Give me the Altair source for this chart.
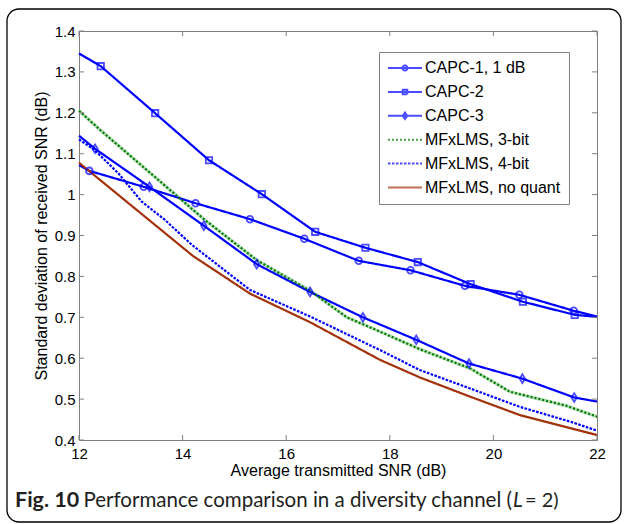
import altair as alt
import pandas as pd

# ---------------- data ----------------
SERIES = ["CAPC-1, 1 dB", "CAPC-2", "CAPC-3", "MFxLMS, 3-bit", "MFxLMS, 4-bit", "MFxLMS, no quant"]
COLORS = ["#0000ff", "#0000ff", "#0000ff", "#007a00", "#0000ff", "#a3320b"]

capc1_x = [12, 12.2, 13.25, 14.25, 15.3, 16.35, 17.4, 18.4, 19.45, 20.5, 21.55, 22]
capc1_y = [1.072, 1.058, 1.019, 0.979, 0.940, 0.892, 0.838, 0.815, 0.777, 0.755, 0.716, 0.702]

capc2_x = [12, 12.42, 13.47, 14.51, 15.53, 16.56, 17.53, 18.54, 19.56, 20.57, 21.57, 22]
capc2_y = [1.345, 1.314, 1.199, 1.084, 1.001, 0.909, 0.870, 0.835, 0.781, 0.738, 0.706, 0.701]

capc3_x = [12, 12.31, 13.36, 14.41, 15.43, 16.46, 17.48, 18.51, 19.53, 20.56, 21.56, 22]
capc3_y = [1.144, 1.112, 1.019, 0.924, 0.830, 0.762, 0.700, 0.645, 0.587, 0.550, 0.504, 0.494]

mf3_x = [12, 12.41, 14.43, 15.43, 16.46, 17.17, 17.81, 18.58, 19.55, 20.32, 21.4, 22]
mf3_y = [1.205, 1.158, 0.938, 0.840, 0.765, 0.700, 0.665, 0.622, 0.575, 0.518, 0.484, 0.457]

mf4_x = [12, 12.31, 12.76, 13.21, 13.66, 14.18, 15.3, 16.46, 17.81, 18.58, 19.55, 20.51, 21.48, 22]
mf4_y = [1.135, 1.108, 1.052, 0.983, 0.938, 0.877, 0.767, 0.702, 0.620, 0.571, 0.526, 0.481, 0.445, 0.423]

mfnq_x = [12, 14.2, 15.3, 16.46, 17.81, 18.58, 19.55, 20.51, 21.48, 22]
mfnq_y = [1.078, 0.850, 0.758, 0.688, 0.596, 0.553, 0.506, 0.461, 0.429, 0.412]

X_TICKS = [12, 14, 16, 18, 20, 22]
Y_TICKS = [0.4, 0.5, 0.6, 0.7, 0.8, 0.9, 1.0, 1.1, 1.2, 1.3, 1.4]

X_TITLE = "Average transmitted SNR (dB)"
Y_TITLE = "Standard deviation of received SNR (dB)"

# ---------------- build tables ----------------
series_xy = [(capc1_x, capc1_y), (capc2_x, capc2_y), (capc3_x, capc3_y),
             (mf3_x, mf3_y), (mf4_x, mf4_y), (mfnq_x, mfnq_y)]

MARK_CIRCLE = "circle"
MARK_SQUARE = "M-0.95,-0.95L0.95,-0.95L0.95,0.95L-0.95,0.95Z"
MARK_DIAMOND = "M0,-1.3L0.8,0L0,1.3L-0.8,0Z"
marker_of = {SERIES[0]: MARK_CIRCLE, SERIES[1]: MARK_SQUARE, SERIES[2]: MARK_DIAMOND}

rows = []
for name, col, (xs, ys) in zip(SERIES, COLORS, series_xy):
    n = len(xs)
    for i, (xv, yv) in enumerate(zip(xs, ys)):
        mk = marker_of.get(name, "")
        rows.append({"series": name, "x": xv, "y": yv, "col": col, "order": i,
                     "marker": mk if (mk and 0 < i < n - 1) else ""})
df = pd.DataFrame(rows)

W, H = 518, 409

xscale = alt.Scale(domain=[12, 22], nice=False, zero=False)
yscale = alt.Scale(domain=[0.4, 1.4], nice=False, zero=False)
xaxis = alt.Axis(values=X_TICKS, format="d", title=X_TITLE, labelFont="Liberation Sans",
                 labelFontSize=15, labelColor="black", titleFont="Liberation Sans",
                 titleFontSize=16, titleFontWeight="normal", titleColor="black",
                 labelPadding=6, titlePadding=1, domain=False, ticks=False, grid=False,
                 labelFlush=False, labelOverlap=False)
yaxis = alt.Axis(values=Y_TICKS, format="~g", title=Y_TITLE, labelFont="Liberation Sans",
                 labelFontSize=15, labelColor="black", titleFont="Liberation Sans",
                 titleFontSize=16, titleFontWeight="normal", titleColor="black",
                 labelPadding=4, titlePadding=5, domain=False, ticks=False, grid=False,
                 labelFlush=False, labelOverlap=False)
X = alt.X("x:Q", scale=xscale, axis=xaxis)
Y = alt.Y("y:Q", scale=yscale, axis=yaxis)

one = pd.DataFrame({"k": [0]})

# frame around the whole figure
frame = alt.Chart(one).mark_rect(fillOpacity=0, stroke="black", strokeWidth=1.3,
                                 cornerRadius=12).encode(
    x=alt.value(-72), x2=alt.value(542), y=alt.value(-22), y2=alt.value(491))

# green halo under dotted 3-bit line
halo = alt.Chart(df[df.series == SERIES[3]]).mark_line(
    color="#b5dcb5", strokeWidth=3.2).encode(x=X, y=Y, order="order:Q")

DASHES = [[1, 0], [1, 0], [1, 0], [2, 2], [2.6, 1.4], [1, 0]]
lines = alt.Chart(df).mark_line(strokeWidth=2.2).encode(
    x=X, y=Y, order="order:Q", detail="series:N",
    color=alt.Color("col:N", scale=None),
    strokeDash=alt.StrokeDash("series:N", scale=alt.Scale(domain=SERIES, range=DASHES), legend=None),
)

markers = alt.Chart(df[df.marker != ""]).mark_point(filled=False, strokeWidth=1.8, color="#0000ff").encode(
    x=X, y=Y, shape=alt.Shape("marker:N", scale=None), size=alt.value(45))

# legend symbols: size 100 -> 1 unit = 5 px, so +-3.4 units = 34 px line
def dotted(dash, period, half=3.4):
    parts = []
    s = -half
    while s < half - 1e-9:
        e = min(s + dash, half)
        parts.append(f"M{s:.3f},0L{e:.3f},0")
        s += period
    return "".join(parts)

LEG_SHAPES = [
    "M-3.4,0L3.4,0M0.5,0A0.5,0.5 0 1 1 -0.5,0A0.5,0.5 0 1 1 0.5,0Z",
    "M-3.4,0L3.4,0M-0.45,-0.45L0.45,-0.45L0.45,0.45L-0.45,0.45Z",
    "M-3.4,0L3.4,0M0,-0.65L0.45,0L0,0.65L-0.45,0Z",
    dotted(0.4, 0.8),
    dotted(0.5, 0.8),
    "M-3.4,0L3.4,0",
]
legend = alt.Legend(orient="none", legendX=300, legendY=21, fillColor="white",
                    strokeColor="#808080", padding=8, labelFont="Liberation Sans",
                    labelFontSize=16, labelColor="black", symbolSize=100,
                    symbolStrokeWidth=2, rowPadding=7.9, symbolOffset=10,
                    labelOffset=12, labelLimit=300)
leg = alt.Chart(df).transform_filter("false").mark_point(filled=False, strokeWidth=2).encode(
    color=alt.Color("series:N", scale=alt.Scale(domain=SERIES, range=COLORS), legend=legend, title=None),
    shape=alt.Shape("series:N", scale=alt.Scale(domain=SERIES, range=LEG_SHAPES), legend=legend, title=None),
)

# inward ticks
tx = pd.DataFrame({"x": X_TICKS})
ty = pd.DataFrame({"y": Y_TICKS})
tick_style = dict(color="#808080", strokeWidth=1)
tb = alt.Chart(tx).mark_rule(**tick_style).encode(x=X, y=alt.value(H - 5), y2=alt.value(H))
tt = alt.Chart(tx).mark_rule(**tick_style).encode(x=X, y=alt.value(0), y2=alt.value(5))
tl = alt.Chart(ty).mark_rule(**tick_style).encode(y=Y, x=alt.value(0), x2=alt.value(5))
tr = alt.Chart(ty).mark_rule(**tick_style).encode(y=Y, x=alt.value(W - 5), x2=alt.value(W))

# caption
CAP_Y = 476
cap_font = "Lato"
cap1 = alt.Chart(one).mark_text(align="left", baseline="alphabetic", font=cap_font, fontSize=21.5,
                                fontWeight="bold", color="#231f20").encode(
    x=alt.value(-64), y=alt.value(CAP_Y), text=alt.value("Fig. 10"))
cap2 = alt.Chart(one).mark_text(align="right", baseline="alphabetic", font=cap_font, fontSize=20.5,
                                color="#231f20").encode(
    x=alt.value(433), y=alt.value(CAP_Y), text=alt.value("Performance comparison in a diversity channel ("))
cap3 = alt.Chart(one).mark_text(align="left", baseline="alphabetic", font=cap_font, fontSize=20.5,
                                fontStyle="italic", color="#231f20").encode(
    x=alt.value(434), y=alt.value(CAP_Y), text=alt.value("L"))
cap4 = alt.Chart(one).mark_text(align="left", baseline="alphabetic", font=cap_font, fontSize=20,
                                color="#231f20").encode(
    x=alt.value(446), y=alt.value(CAP_Y), text=alt.value("= 2)"))

chart = alt.layer(frame, halo, lines, markers, leg, tb, tt, tl, tr, cap1, cap2, cap3, cap4).properties(
    width=W, height=H,
    autosize=alt.AutoSizeParams(type="none"),
    padding={"left": 79, "top": 31, "right": 30, "bottom": 84},
    background="white",
).configure_view(stroke="#808080", strokeWidth=1)

chart.save("out.html", embed_options={"renderer": "svg", "actions": False})
